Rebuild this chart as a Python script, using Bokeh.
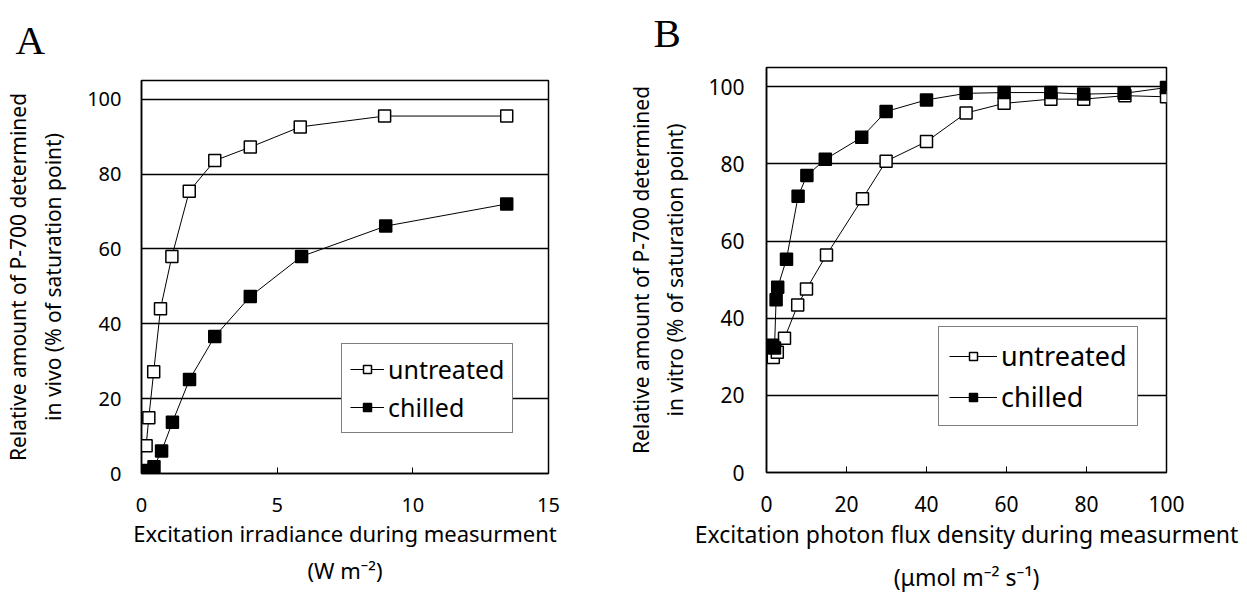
from bokeh.plotting import figure
from bokeh.layouts import row, column
from bokeh.models import Range1d, LinearAxis, Legend, LegendItem, FixedTicker, Title
from bokeh.embed import file_html
from bokeh.resources import INLINE

# ---- Panel A data (in vivo) ----
a_untreated_x = [0.17, 0.27, 0.45, 0.70, 1.12, 1.76, 2.70, 4.01, 5.85, 8.96, 13.46]
a_untreated_y = [7.4, 14.9, 27.2, 44.0, 58.0, 75.4, 83.6, 87.2, 92.6, 95.5, 95.5]
a_chilled_x = [0.13, 0.25, 0.46, 0.74, 1.14, 1.77, 2.70, 4.01, 5.90, 9.00, 13.46]
a_chilled_y = [0.1, 0.8, 1.8, 6.0, 13.7, 25.1, 36.6, 47.3, 58.0, 66.1, 72.0]

# ---- Panel B data (in vitro) ----
b_untreated_x = [1.7, 2.7, 4.5, 7.8, 10.0, 15.0, 24.0, 29.9, 40.0, 49.9, 59.4, 71.1, 79.3, 89.6, 100.0]
b_untreated_y = [29.8, 31.2, 34.8, 43.4, 47.6, 56.4, 71.0, 80.7, 85.8, 93.2, 95.7, 96.8, 96.8, 97.7, 97.4]
b_chilled_x = [1.5, 2.0, 2.4, 2.8, 5.0, 7.9, 10.1, 14.7, 23.8, 29.9, 40.0, 49.9, 59.4, 71.1, 79.3, 89.4, 100.0]
b_chilled_y = [33.0, 32.3, 44.8, 48.0, 55.3, 71.6, 77.0, 81.2, 86.9, 93.6, 96.6, 98.3, 98.5, 98.5, 98.1, 98.3, 99.8]

a_xticks = [0, 5, 10, 15]
b_xticks = [0, 20, 40, 60, 80, 100]
yticks = [0, 20, 40, 60, 80, 100]

SANS = "Noto Sans"


def panel(letter, title_offset, title_standoff, xs_u, ys_u, xs_c, ys_c, xmax, xticks,
          xlabel1, xlabel2, ylabel1, ylabel2, width, borders,
          tick_fs, label_fs, ylab_fs, leg_loc, leg_fs, leg_pad, leg_lh, leg_gw,
          ylab_standoff, ylab2_standoff, ytick_standoff, xtick_standoff, xlab2_standoff):
    bl, br, bt, bb = borders
    p = figure(width=width, height=595, x_range=Range1d(0, xmax), y_range=Range1d(0, 105),
               output_backend="svg", toolbar_location=None, title=None,
               min_border_left=bl, min_border_right=br, min_border_top=bt, min_border_bottom=bb)
    p.background_fill_color = "white"
    p.border_fill_color = "white"
    p.outline_line_color = "black"
    p.outline_line_width = 1.5

    t = Title(text=letter, text_font="Liberation Serif", text_font_size="41px",
              text_font_style="normal", text_color="black", align="left",
              vertical_align="top", offset=title_offset, standoff=title_standoff)
    p.add_layout(t, "above")

    p.xgrid.visible = False
    p.ygrid.ticker = FixedTicker(ticks=yticks)
    p.ygrid.grid_line_color = "black"
    p.ygrid.grid_line_width = 1.3

    xa = p.xaxis[0]
    xa.ticker = FixedTicker(ticks=xticks)
    xa.major_tick_in = 6
    xa.major_tick_out = 0
    xa.minor_tick_line_color = None
    xa.axis_line_color = "black"
    xa.axis_line_width = 1.5
    xa.major_label_standoff = xtick_standoff
    xa.major_label_text_font = SANS
    xa.major_label_text_font_size = tick_fs
    xa.major_label_text_color = "black"
    xa.axis_label = xlabel1
    xa.axis_label_text_font = SANS
    xa.axis_label_text_font_size = label_fs
    xa.axis_label_text_font_style = "normal"
    xa.axis_label_text_color = "black"
    xa.axis_label_standoff = 3

    xa2 = LinearAxis(ticker=FixedTicker(ticks=[]), axis_line_color=None,
                     major_tick_line_color=None, minor_tick_line_color=None,
                     axis_label=xlabel2, axis_label_text_font=SANS,
                     axis_label_text_font_size=label_fs, axis_label_text_font_style="normal",
                     axis_label_text_color="black", axis_label_standoff=xlab2_standoff,
                     major_label_standoff=0)
    p.add_layout(xa2, "below")

    ya = p.yaxis[0]
    ya.ticker = FixedTicker(ticks=yticks)
    ya.major_tick_in = 0
    ya.major_tick_out = 0
    ya.minor_tick_line_color = None
    ya.axis_line_color = "black"
    ya.axis_line_width = 1.5
    ya.major_label_standoff = ytick_standoff
    ya.major_label_text_font = SANS
    ya.major_label_text_font_size = tick_fs
    ya.major_label_text_color = "black"
    ya.axis_label = ylabel2
    ya.axis_label_text_font = SANS
    ya.axis_label_text_font_size = ylab_fs
    ya.axis_label_text_font_style = "normal"
    ya.axis_label_text_color = "black"
    ya.axis_label_standoff = ylab_standoff

    ya2 = LinearAxis(ticker=FixedTicker(ticks=[]), axis_line_color=None,
                     major_tick_line_color=None, minor_tick_line_color=None,
                     axis_label=ylabel1, axis_label_text_font=SANS,
                     axis_label_text_font_size=ylab_fs, axis_label_text_font_style="normal",
                     axis_label_text_color="black", axis_label_standoff=ylab2_standoff,
                     major_label_standoff=0)
    p.add_layout(ya2, "left")

    lu = p.line(xs_u, ys_u, line_color="black", line_width=1)
    su = p.scatter(xs_u, ys_u, marker="square", size=12, fill_color="white",
                   line_color="black", line_width=1.5)
    lc = p.line(xs_c, ys_c, line_color="black", line_width=1)
    sc = p.scatter(xs_c, ys_c, marker="square", size=12, fill_color="black",
                   line_color="black", line_width=1.5)

    leg = Legend(items=[LegendItem(label="untreated", renderers=[lu, su]),
                        LegendItem(label="chilled", renderers=[lc, sc])],
                 location=leg_loc, orientation="vertical")
    leg.border_line_color = "black"
    leg.border_line_width = 1.5
    leg.background_fill_color = "white"
    leg.background_fill_alpha = 1.0
    leg.label_text_font = SANS
    leg.label_text_font_size = leg_fs
    leg.label_text_color = "black"
    leg.glyph_width = leg_gw
    leg.glyph_height = 20
    leg.label_height = leg_lh
    leg.label_standoff = 4
    leg.padding = leg_pad
    leg.spacing = 4
    leg.margin = 0
    p.add_layout(leg, "center")
    return p


pa = panel("A", -126, 32, a_untreated_x, a_untreated_y, a_chilled_x, a_chilled_y, 15, a_xticks,
           "Excitation irradiance during measurment", "(W m\u207b\u00b2)",
           "Relative amount of P-700 determined", "in vivo (% of saturation point)",
           623, (136, 75, 80, 122),
           "20px", "22px", "21px", (200, 40), "25px", 8, 30, 34, 17, 5, 20, 24, 4)

pb = panel("B", -113, 19, b_untreated_x, b_untreated_y, b_chilled_x, b_chilled_y, 100, b_xticks,
           "Excitation photon flux density during measurment", "(\u03bcmol m\u207b\u00b2 s\u207b\u00b9)",
           "Relative amount of P-700 determined", "in vitro (% of saturation point)",
           624, (137, 81, 67, 116),
           "21px", "23px", "21px", (172, 46), "27px", 10, 34, 48, 16, 4, 22, 23, 8)

# each figure sits in its own column so that the row does not align the two frames
layout = row(column(pa, spacing=0), column(pb, spacing=0), spacing=0)
open("out.html", "w").write(file_html(layout, INLINE))
